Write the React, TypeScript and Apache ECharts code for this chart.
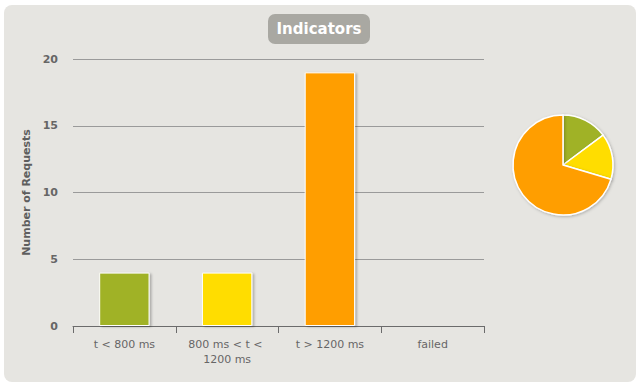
import React, { useEffect, useRef } from "react";
import * as echarts from "echarts";

const categories = ["t < 800 ms", "800 ms < t < 1200 ms", "t > 1200 ms", "failed"];
const counts = [4, 4, 19, 0];
const colors = ["#A0B228", "#FFDD00", "#FF9E00", "#F15B4F"];
const yTicks = { min: 0, max: 20, interval: 5 };

export default function App() {
  const ref = useRef<HTMLDivElement>(null);
  useEffect(() => {
    const chart = echarts.init(ref.current!, null, { renderer: "svg" });
    const font = "'DejaVu Sans', Verdana, sans-serif";
    chart.setOption({
      animation: false,
      backgroundColor: "#ffffff",
      textStyle: { fontFamily: font },
      graphic: [
        {
          type: "rect",
          shape: { x: 4, y: 5, width: 632, height: 377, r: 8 },
          style: { fill: "#E6E5E1" },
          z: -10,
          silent: true,
        },
        {
          type: "rect",
          shape: { x: 268, y: 14, width: 102, height: 30, r: 7 },
          style: { fill: "#A9A8A2" },
          z: 1,
        },
        {
          type: "text",
          x: 319,
          y: 29,
          style: {
            text: "Indicators",
            fill: "#ffffff",
            font: "bold 15px " + font,
            align: "center",
            verticalAlign: "middle",
          },
          z: 2,
        },
      ],
      grid: { left: 73, right: 159, top: 59, bottom: 62, containLabel: false },
      xAxis: {
        type: "category",
        data: categories,
        axisLine: { show: true, lineStyle: { color: "#6b6b6b", width: 1 } },
        axisTick: { show: true, length: 7, alignWithLabel: false, interval: 0, lineStyle: { color: "#6b6b6b", width: 1 } },
        axisLabel: {
          color: "#666666",
          fontSize: 11,
          margin: 11,
          lineHeight: 15,
          width: 92,
          overflow: "break",
          interval: 0,
        },
      },
      yAxis: {
        type: "value",
        min: yTicks.min,
        max: yTicks.max,
        interval: yTicks.interval,
        name: "Number of Requests",
        nameLocation: "middle",
        nameGap: 38,
        nameTextStyle: { color: "#5e5e5e", fontWeight: "bold", fontSize: 11 },
        axisLine: { show: false },
        axisTick: { show: false },
        axisLabel: { color: "#666666", fontWeight: "bold", fontSize: 11, margin: 15 },
        splitLine: { lineStyle: { color: "#9a9a9a", width: 1 } },
      },
      series: [
        {
          type: "bar",
          data: counts.map((v, i) => ({ value: v, itemStyle: { color: colors[i] } })),
          barWidth: "49%",
          itemStyle: {
            borderColor: "#ffffff",
            borderWidth: 1,
            shadowColor: "rgba(0,0,0,0.25)",
            shadowOffsetX: 2,
            shadowOffsetY: 1,
            shadowBlur: 2,
          },
        },
        {
          type: "pie",
          center: [563, 165],
          radius: 50,
          startAngle: 90,
          clockwise: true,
          label: { show: false },
          labelLine: { show: false },
          data: categories.map((c, i) => ({ name: c, value: counts[i], itemStyle: { color: colors[i] } })),
          itemStyle: {
            borderColor: "#ffffff",
            borderWidth: 1.5,
            shadowColor: "rgba(0,0,0,0.25)",
            shadowOffsetX: 1,
            shadowOffsetY: 1,
            shadowBlur: 3,
          },
        },
      ],
    });
    return () => chart.dispose();
  }, []);
  return (
    <div
      ref={ref}
      style={{ position: "fixed", left: 0, top: 0, width: 643, height: 388 }}
    />
  );
}
